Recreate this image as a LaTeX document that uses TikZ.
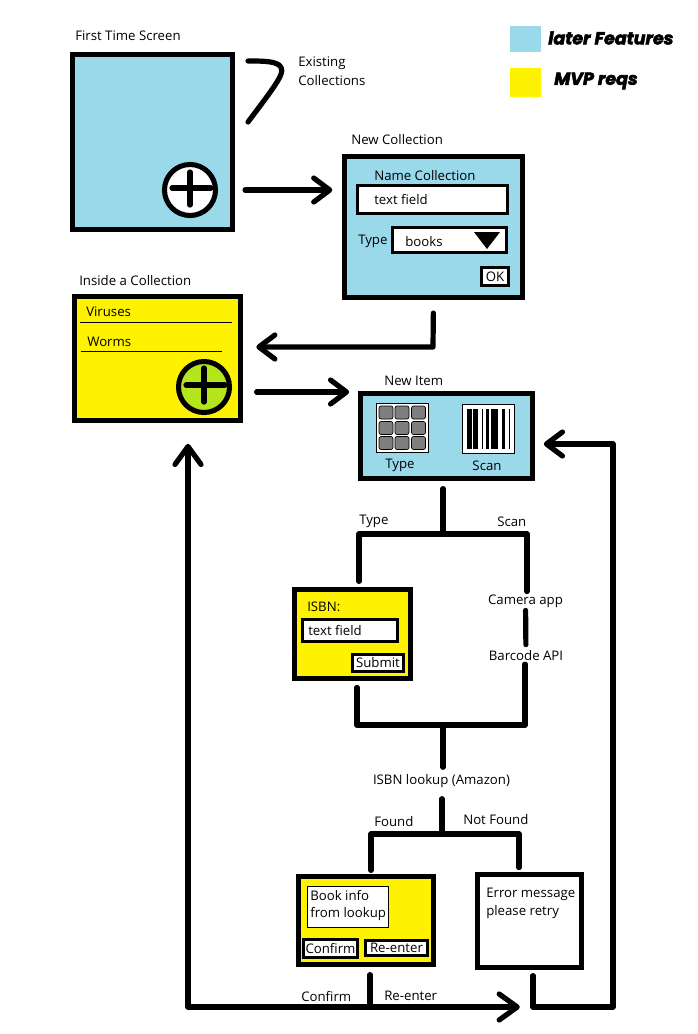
\documentclass[tikz,border=0pt]{standalone}
\usepackage{fontspec}
\setmainfont{Open Sans}
\newfontfamily\legendfont[BoldItalicFeatures={FakeBold=3}]{Poppins}
\usepackage{xcolor}
\usepackage{tikz}
\usetikzlibrary{arrows.meta,positioning,calc}
\definecolor{laterblue}{RGB}{153,217,234}
\definecolor{mvpyellow}{RGB}{255,242,0}
\definecolor{addgreen}{RGB}{181,230,29}
\definecolor{keygrey}{RGB}{127,127,127}
\newcommand{\uitext}{\fontsize{9.4}{11}\selectfont}
\tikzset{
    screen/.style={draw, line width=3.6pt, inner sep=0pt},
    field/.style={draw, fill=white, line width=2.1pt, inner sep=0pt, font=\uitext},
    icon/.style={draw, fill=white, line width=0.7pt, inner sep=0pt},
    addbtn/.style={circle, draw, line width=3.6pt, minimum size=1.275cm, inner sep=0pt},
    lbl/.style={anchor=west, inner sep=0pt, yshift=-0.7pt, font=\uitext},
    steplbl/.style={font=\uitext, yshift=-0.7pt, inner sep=2pt},
    legendlbl/.style={anchor=west, inner sep=0pt, font=\legendfont\bfseries\itshape\fontsize{12.4}{14}\selectfont},
    wire/.style={line width=3.7pt, line cap=round, line join=round},
    flow/.style={wire, -{Straight Barb[length=4mm,width=6mm,round]}}
}
\begin{document}
\begin{tikzpicture}[x=0.025cm, y=-0.025cm]
    \useasboundingbox (0,0) rectangle (698,1034);

    % Legend
    \node[fill=laterblue, inner sep=0pt, minimum width=0.775cm, minimum height=0.65cm] (legendblue) at (525.5,39) {};
    \node[fill=mvpyellow, inner sep=0pt, minimum width=0.775cm, minimum height=0.725cm] (legendyellow) at (525.5,82.5) {};
    \node[legendlbl] (legendlater) at (548,38) {later Features};
    \node[legendlbl] (legendmvp) at (554,81) {MVP reqs};

    % First time screen
    \node[lbl] (firsttitle) at (75,35) {First Time Screen};
    \node[screen, fill=laterblue, minimum width=4cm, minimum height=4.375cm] (firstscreen) at (152.5,142) {};
    \node[addbtn, fill=white] (firstadd) at (190,190) {};
    \draw[wire] (172,188) -- (211,188);
    \draw[wire] (190,172) -- (190,205);
    \draw[wire] (248,61) .. controls (262,61) and (273,61) .. (279,65) .. controls (287,71) and (278,82) .. (248,122);
    \node[lbl] (existing) at (298,62) {Existing};
    \node[lbl] (collections) at (298,80) {Collections};

    % New collection
    \node[lbl] (newcolltitle) at (351,139) {New Collection};
    \node[screen, fill=laterblue, minimum width=4.45cm, minimum height=3.525cm] (newcoll) at (433.5,227) {};
    \node[lbl] (namecoll) at (374,175) {Name Collection};
    \node[field, minimum width=3.75cm, minimum height=0.7cm] (namefield) at (432.5,199.5) {};
    \node[lbl] (namefieldtext) at (374,199) {text field};
    \node[lbl] (typelbl) at (358,240) {Type};
    \node[field, minimum width=2.85cm, minimum height=0.625cm] (typedrop) at (449.5,240) {};
    \node[lbl] (bookslbl) at (405,241) {books};
    \fill (474,232) -- (500,232) -- (487,249) -- cycle;
    \node[field, minimum width=0.675cm, minimum height=0.45cm] (okbtn) at (495,276.5) {OK};

    % Inside a collection
    \node[lbl] (insidetitle) at (79,280) {Inside a Collection};
    \node[screen, fill=mvpyellow, minimum width=4.15cm, minimum height=3.1cm] (insidecoll) at (157.5,358.5) {};
    \node[lbl] (viruses) at (86,311) {Viruses};
    \draw[line width=0.7pt] (80,322) -- (232,322);
    \node[lbl] (worms) at (87,341) {Worms};
    \draw[line width=0.7pt] (81,351) -- (222,351);
    \node[addbtn, fill=addgreen] (insideadd) at (204,387) {};
    \draw[wire] (186,385) -- (225,385);
    \draw[wire] (204,368) -- (204,402);

    % New item
    \node[lbl] (newitemtitle) at (384,380) {New Item};
    \node[screen, fill=laterblue, minimum width=4.3cm, minimum height=2.125cm] (newitem) at (446.5,436) {};
    \node[icon, minimum width=1.3cm, minimum height=1.225cm] (keypad) at (402.5,428) {};
    \foreach \kx in {386,402,418.5} {
        \foreach \ky in {412.5,428,443} {
            \draw[fill=keygrey, line width=0.5pt, rounded corners=1.5pt] ({\kx-7},{\ky-6.5}) rectangle ({\kx+7},{\ky+6.5});
        }
    }
    \node[icon, minimum width=1.3cm, minimum height=1.225cm] (barcode) at (488.5,429) {};
    \foreach \ba/\bb in {467.3/472, 473.3/478.3, 481.7/482.7, 486/489.3, 491/498.3, 501.7/505, 509/510} {
        \fill (\ba,409) rectangle (\bb,449);
    }
    \node[font=\uitext, inner sep=0pt] (keypadlbl) at (400,465) {Type};
    \node[font=\uitext, inner sep=0pt] (barcodelbl) at (487,466) {Scan};

    % Branch labels
    \node[lbl] (typebranch) at (359,520) {Type};
    \node[lbl] (scanbranch) at (497,521) {Scan};
    \node[steplbl] (cameraapp) at (525.5,600) {Camera app};
    \node[steplbl] (barcodeapi) at (526,655) {Barcode API};
    \node[steplbl] (lookup) at (441.5,780) {ISBN lookup (Amazon)};
    \node[lbl] (foundlbl) at (374,821) {Found};
    \node[lbl] (notfoundlbl) at (463,819) {Not Found};
    \node[lbl] (confirmlbl) at (301,996) {Confirm};
    \node[lbl] (reenterlbl) at (384,995) {Re-enter};

    % ISBN entry
    \node[screen, fill=mvpyellow, minimum width=2.9cm, minimum height=2.225cm] (isbnbox) at (352.5,634) {};
    \node[lbl] (isbnlbl) at (307,606) {ISBN:};
    \node[field, minimum width=2.375cm, minimum height=0.55cm] (isbnfield) at (350,630.5) {};
    \node[lbl] (isbnfieldtext) at (308,630) {text field};
    \node[field, minimum width=1.275cm, minimum height=0.425cm] (submitbtn) at (378,663) {Submit};

    % Book info
    \node[screen, fill=mvpyellow, minimum width=3.375cm, minimum height=2.2cm] (bookbox) at (366,920.5) {};
    \node[icon, minimum width=2.025cm, minimum height=1.025cm] (bookinfo) at (348,907) {};
    \node[lbl] (bookinfoa) at (310,895) {Book info};
    \node[lbl] (bookinfob) at (310,913) {from lookup};
    \node[field, minimum width=1.35cm, minimum height=0.45cm] (confirmbtn) at (330.5,948.5) {Confirm};
    \node[field, minimum width=1.55cm, minimum height=0.375cm] (reenterbtn) at (396.5,948) {Re-enter};

    % Error
    \node[screen, fill=white, minimum width=2.6cm, minimum height=2.325cm] (errorbox) at (529.5,921) {};
    \node[lbl] (errora) at (486,893) {Error message};
    \node[lbl] (errorb) at (486,911) {please retry};

    % Corners of the connectors
    \coordinate (backcorner) at (433,347);
    \coordinate (itemrow) at (300,392);
    \coordinate (itemfork) at (443,534);
    \coordinate (forktype) at (359,534);
    \coordinate (forkscan) at (527,534);
    \coordinate (mergeleft) at (357,725);
    \coordinate (mergeright) at (525,725);
    \coordinate (mergemid) at (443,725);
    \coordinate (lookupfork) at (442,834);
    \coordinate (forkfound) at (371,834);
    \coordinate (forknot) at (519,834);
    \coordinate (busjoin) at (370,1007);
    \coordinate (buscorner) at (188,1007);
    \coordinate (errdrop) at (533,1007);
    \coordinate (retrycorner) at (613,1007);
    \coordinate (retrytop) at (613,444);

    % Connectors
    \draw[flow, shorten <=0.25cm, shorten >=0.24cm] (firstadd -| firstscreen.east) -- (firstadd -| newcoll.west);
    \draw[flow, shorten <=0.325cm, shorten >=0.33cm] (newcoll.south) -- (backcorner) -- (backcorner -| insidecoll.east);
    \draw[flow, shorten <=0.34cm, shorten >=0.22cm] (itemrow -| insidecoll.east) -- (itemrow -| newitem.west);
    \draw[wire, shorten <=0.19cm] (itemfork |- newitem.south) -- (itemfork);
    \draw[wire, shorten <=0.14cm] (forktype |- isbnbox.north) -- (forktype) -- (forkscan) -- (forkscan |- cameraapp.north);
    \draw[wire, shorten >=0.08cm] (cameraapp) -- (barcodeapi);
    \draw[wire, shorten <=0.16cm] (mergeleft |- isbnbox.south) -- (mergeleft) -- (mergeright) -- (mergeright |- barcodeapi.south);
    \draw[wire, shorten >=0.1cm] (mergemid) -- (mergemid |- lookup.north);
    \draw[wire, shorten <=0.2cm] (lookupfork |- lookup.south) -- (lookupfork);
    \draw[wire, shorten <=0.09cm, shorten >=0.11cm] (forkfound |- bookbox.north) -- (forkfound) -- (forknot) -- (forknot |- errorbox.north);
    \draw[wire, shorten <=0.19cm] (busjoin |- bookbox.south) -- (busjoin);
    \draw[wire, {Straight Barb[length=4.5mm,width=6.5mm,round]}-{Straight Barb[length=4.5mm,width=6.5mm,round]}, shorten <=0.52cm, shorten >=0.33cm] (buscorner |- insidecoll.south) -- (buscorner) -- (errdrop);
    \draw[flow, shorten <=0.14cm, shorten >=0.22cm] (errdrop |- errorbox.south) -- (errdrop) -- (retrycorner) -- (retrytop) -- (retrytop -| newitem.east);
\end{tikzpicture}
\end{document}
